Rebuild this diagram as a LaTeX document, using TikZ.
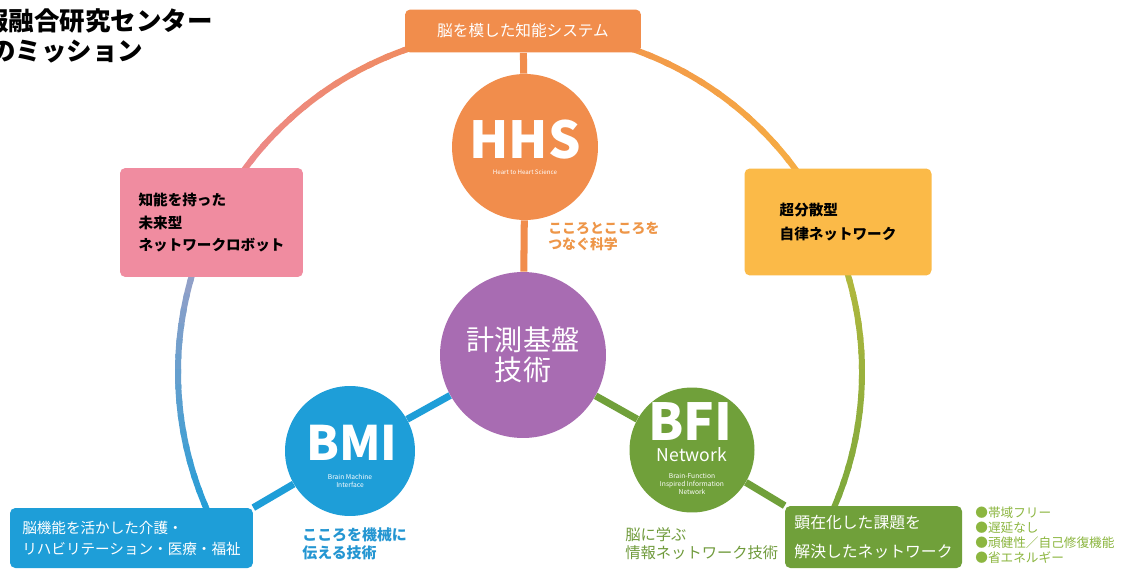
\documentclass[tikz,border=0pt]{standalone}
\usepackage{fontspec}
\setmainfont{Noto Sans CJK JP}
\usetikzlibrary{calc}
\definecolor{hhsorange}{RGB}{241,141,76}
\definecolor{pinkbox}{RGB}{240,140,160}
\definecolor{yellowbox}{RGB}{251,186,72}
\definecolor{keipurple}{RGB}{168,108,178}
\definecolor{bmiblue}{RGB}{30,158,216}
\definecolor{bfigreen}{RGB}{112,160,58}
\definecolor{ringgreen}{RGB}{125,168,60}
\definecolor{ringolive}{RGB}{190,188,62}
\definecolor{ringyellow}{RGB}{247,178,66}
\definecolor{ringpink}{RGB}{236,136,152}
\definecolor{ringlav}{RGB}{172,160,196}
\definecolor{kokoroorange}{RGB}{238,150,72}
\definecolor{textblue}{RGB}{36,150,210}
\definecolor{textgreen}{RGB}{112,155,60}
\definecolor{bulletgreen}{RGB}{140,182,64}

\begin{document}
\begin{tikzpicture}[x=0.02cm,y=0.02cm,
    ring/.style={line width=3.4pt},
    link/.style={line width=4pt},
    disc/.style={circle,inner sep=0pt},
    panel/.style={rounded corners=3pt,inner sep=0pt,align=left},
    onwhite/.style={text=white,inner sep=0pt,align=center}]
  \useasboundingbox[fill=white] (0,0) rectangle (1141,572);
  \coordinate (o) at (520,200);
  % title (cut at the left edge)
  \node[anchor=base west,inner sep=0pt,font=\bfseries\fontsize{14.5pt}{17pt}\selectfont] (title1) at (-17,541) {報融合研究センター};
  \node[anchor=base west,inner sep=0pt,font=\bfseries\fontsize{14.5pt}{17pt}\selectfont] (title2) at (-10,511) {のミッション};
  % outer ring
  \foreach \sa/\sb/\ca/\cb in {-24/25/ringgreen/ringolive,25/90/ringyellow/hhsorange,90/154/hhsorange/ringpink,154/205/ringlav/bmiblue}{
    \foreach \i in {0,...,19}{
      \pgfmathsetmacro{\aa}{(\sa)+((\sb)-(\sa))*\i/20}
      \pgfmathsetmacro{\ab}{(\sa)+((\sb)-(\sa))*(\i+1.3)/20}
      \pgfmathtruncatemacro{\pc}{100-5*\i}
      \draw[ring,color=\ca!\pc!\cb] ($(o)+(\aa:342)$) arc[start angle=\aa,end angle=\ab,radius=342];
    }
  }
  % boxes on the ring
  \node[panel,fill=hhsorange,text=white,minimum width=4.72cm,minimum height=0.86cm,font=\fontsize{8.9pt}{10pt}\selectfont] (topbox) at (523,541) {脳を模した知能システム};
  \node[panel,fill=pinkbox,minimum width=3.66cm,minimum height=2.18cm,font=\bfseries\fontsize{8.3pt}{12.8pt}\selectfont] (pinkbx) at (211.5,349.5) {知能を持った\\未来型\\ネットワークロボット};
  \node[panel,fill=yellowbox,minimum width=3.74cm,minimum height=2.14cm,font=\bfseries\fontsize{8.3pt}{14pt}\selectfont] (yellowbx) at (838,350) {超分散型\\自律ネットワーク};
  \node[panel,fill=bmiblue,text=white,minimum width=4.86cm,minimum height=1.2cm,font=\fontsize{8.3pt}{12pt}\selectfont] (bluebx) at (131.5,34) {脳機能を活かした介護・\\リハビリテーション・医療・福祉};
  \node[panel,fill=bfigreen,text=white,minimum width=3.54cm,minimum height=1.24cm,font=\fontsize{9pt}{16pt}\selectfont] (greenbx) at (873.5,35) {顕在化した課題を\\解決したネットワーク};
  % circles
  \node[disc,fill=hhsorange,minimum size=2.92cm] (hhs) at (525,425) {};
  \node[onwhite,font=\bfseries\fontsize{29pt}{29pt}\selectfont] (hhsname) at (525,432) {HHS};
  \node[onwhite,font=\fontsize{3.5pt}{4pt}\selectfont] (hhssub) at (525,400) {Heart to Heart Science};
  \node[disc,fill=keipurple,minimum size=3.32cm,text=white,align=center,font=\fontsize{16pt}{17pt}\selectfont] (kei) at (523,217) {計測基盤\\技術};
  \node[disc,fill=bmiblue,minimum size=2.6cm] (bmi) at (350,121) {};
  \node[onwhite,font=\bfseries\fontsize{27pt}{27pt}\selectfont] (bminame) at (352,129) {BMI};
  \node[onwhite,font=\fontsize{3.8pt}{4.6pt}\selectfont] (bmisub) at (350,91) {Brain Machine\\Interface};
  \node[disc,fill=bfigreen,minimum size=2.5cm] (bfi) at (692,122) {};
  \node[onwhite,font=\bfseries\fontsize{29pt}{29pt}\selectfont] (bfiname) at (690,150) {BFI};
  \node[onwhite,font=\fontsize{10pt}{10pt}\selectfont] (bfinet) at (692,117) {Network};
  \node[onwhite,font=\fontsize{3.8pt}{4.6pt}\selectfont] (bfisub) at (692,88) {Brain-Function\\Inspired Information\\Network};
  % spokes
  \draw[link,hhsorange] (topbox) -- (hhs);
  \draw[link,hhsorange] (hhs) -- (kei);
  \draw[link,bmiblue] (kei) -- (bmi);
  \draw[link,bmiblue] (bmi) -- (bluebx.north east);
  \draw[link,bfigreen] (kei) -- (bfi);
  \draw[link,bfigreen] (bfi) -- (greenbx.north west);
  % captions
  \node[anchor=west,inner sep=0pt,align=left,text=kokoroorange,font=\bfseries\fontsize{7.9pt}{9.6pt}\selectfont] (kokoro) at (548,335.5) {こころとこころを\\つなぐ科学};
  \node[anchor=west,inner sep=0pt,align=left,text=textblue,font=\bfseries\fontsize{8.5pt}{10.2pt}\selectfont] (kikai) at (302,28) {こころを機械に\\伝える技術};
  \node[anchor=west,inner sep=0pt,align=left,text=textgreen,font=\fontsize{8.7pt}{10.2pt}\selectfont] (manabu) at (625,28) {脳に学ぶ\\情報ネットワーク技術};
  \node[anchor=west,inner sep=0pt,align=left,text=bulletgreen,font=\fontsize{7.2pt}{8.5pt}\selectfont] (merits) at (975,37) {●帯域フリー\\●遅延なし\\●頑健性／自己修復機能\\●省エネルギー};
\end{tikzpicture}
\end{document}
